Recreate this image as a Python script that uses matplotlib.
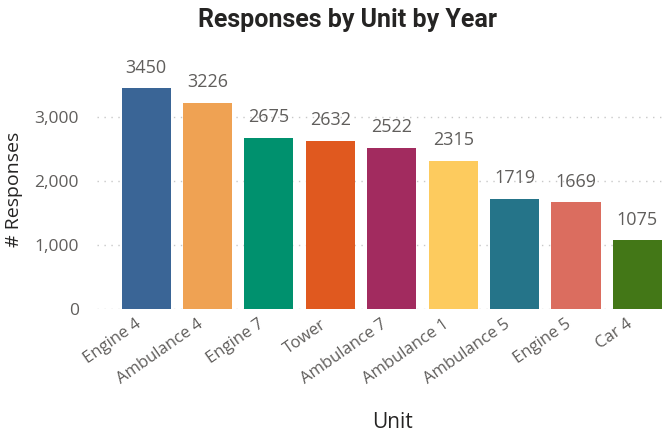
import matplotlib
matplotlib.use('Agg')
import matplotlib.pyplot as plt
import matplotlib.transforms as mtransforms
from matplotlib.ticker import FuncFormatter

units = ['Engine 4', 'Ambulance 4', 'Engine 7', 'Tower', 'Ambulance 7',
         'Ambulance 1', 'Ambulance 5', 'Engine 5', 'Car 4']
responses = [3450, 3226, 2675, 2632, 2522, 2315, 1719, 1669, 1075]
bar_colors = ['#3A6596', '#EFA253', '#00916E', '#E0591F', '#A22B5F',
              '#FDCB5E', '#257489', '#DB6D5F', '#437717']
y_ticks = [0, 1000, 2000, 3000]

fig = plt.figure(figsize=(6.65, 4.34), dpi=100)
ax = fig.add_axes([97 / 665, 1 - 309 / 434, (665 - 97) / 665, (309 - 70) / 434])

x = range(len(units))
ax.bar(x, responses, width=0.8, color=bar_colors, zorder=2)

# value labels above each bar
for i, v in zip(x, responses):
    ax.text(i, v + 180, str(v), ha='center', va='bottom',
            fontsize=13, color='#605E5C', family='Open Sans')

ax.set_xlim(-0.8, 8.45)
ax.set_ylim(0, 239 / 64 * 1000)
ax.set_yticks(y_ticks)
ax.yaxis.set_major_formatter(FuncFormatter(lambda v, p: format(int(v), ',')))
ax.grid(axis='y', linestyle=(0, (1, 4)), color='#C8C8C8', linewidth=1, zorder=0)

for s in ax.spines.values():
    s.set_visible(False)
ax.tick_params(length=0)
ax.tick_params(axis='y', pad=13, labelsize=12.5, labelcolor='#605E5C')
for lbl in ax.get_yticklabels():
    lbl.set_family('Open Sans')

ax.set_xticks(list(x))
ax.set_xticklabels(units, rotation=35, ha='right', va='center', rotation_mode='anchor',
                   fontsize=12, color='#605E5C', family='Open Sans')
ax.tick_params(axis='x', pad=10)
shift = mtransforms.ScaledTranslation(-6 / 100, 0, fig.dpi_scale_trans)
for lbl in ax.get_xticklabels():
    lbl.set_transform(lbl.get_transform() + shift)

ax.set_ylabel('# Responses', fontsize=14, color='#252423', family='Open Sans', labelpad=8)
ax.set_xlabel('Unit', fontsize=15, color='#252423', family='Open Sans')
ax.xaxis.set_label_coords((392 - 97) / (665 - 97), -(423 - 309) / 239)
ax.xaxis.label.set_va('center')

fig.text(0.522, 1 - 20 / 434, 'Responses by Unit by Year', ha='center', va='center',
         fontsize=18, fontweight='bold', color='#252423', family='Roboto')

fig.savefig('out.png', dpi=100, facecolor='white')
